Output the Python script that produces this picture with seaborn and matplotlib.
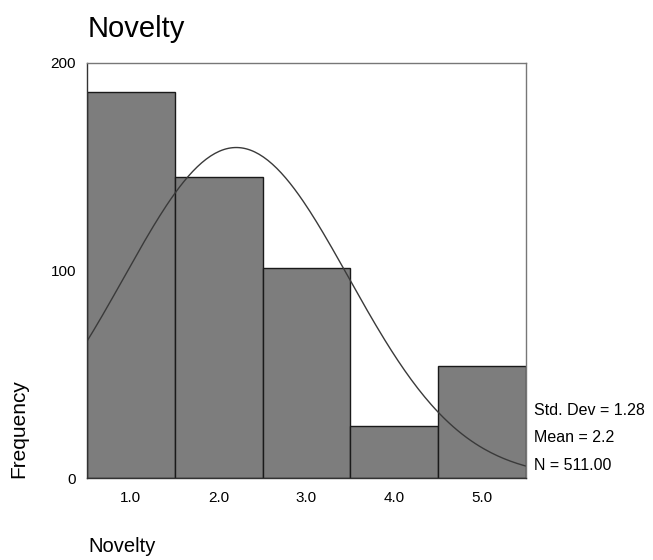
import numpy as np
import pandas as pd
import matplotlib
matplotlib.use('Agg')
import matplotlib.pyplot as plt
import seaborn as sns

# ------------------------
# Datos
# ------------------------
scores = [1.0, 2.0, 3.0, 4.0, 5.0]
freqs = [186, 145, 101, 25, 54]
tick_labels = ['1.0', '2.0', '3.0', '4.0', '5.0']
mean_val = 2.2
std_val = 1.28
n_val = 511

df = pd.DataFrame({'Novelty': scores, 'Frequency': freqs})

sns.set_style('white')
plt.rcParams['font.family'] = ['Liberation Sans', 'DejaVu Sans']
plt.rcParams['text.color'] = 'black'
plt.rcParams['xtick.color'] = 'black'
plt.rcParams['ytick.color'] = 'black'

fig = plt.figure(figsize=(6.53, 5.6), dpi=100)
ax = fig.add_axes([87/653, 1 - 478/560, 439/653, 415/560])

sns.histplot(data=df, x='Novelty', weights='Frequency', discrete=True,
             color='#7d7d7d', edgecolor='#1a1a1a', linewidth=1.0,
             alpha=1.0, ax=ax)

# curva normal ajustada (media, desv. est., N del gráfico)
xs = np.linspace(0.5, 5.5, 200)
ys = n_val * 1.0 / (std_val * np.sqrt(2 * np.pi)) * np.exp(-0.5 * ((xs - mean_val) / std_val) ** 2)
sns.lineplot(x=xs, y=ys, color='#3a3a3a', linewidth=1.0, ax=ax)

ax.set_xlim(0.5, 5.5)
ax.set_ylim(0, 200)
ax.set_xticks(scores)
ax.set_xticklabels(tick_labels)
ax.set_yticks([0, 100, 200])
ax.set_xlabel('')
ax.set_ylabel('')
ax.tick_params(axis='both', labelsize=11, length=3, width=0.8, color='#555555',
               labelcolor='black', pad=5)
ax.tick_params(axis='x', pad=6)

for side in ['left', 'bottom']:
    ax.spines[side].set_color('#333333')
    ax.spines[side].set_linewidth(1.0)
for side in ['top', 'right']:
    ax.spines[side].set_color('#777777')
    ax.spines[side].set_linewidth(1.0)

# textos
fig.text(88/653, 1 - 37/560, 'Novelty', fontsize=21, ha='left', va='baseline')
fig.text(88/653, 1 - 552/560, 'Novelty', fontsize=14.5, ha='left', va='baseline')
fig.text(19/653, 1 - 478/560, 'Frequency', fontsize=15, rotation=90, ha='center', va='bottom')

stats = [f'Std. Dev = {std_val:.2f}', f'Mean = {mean_val:.1f}', f'N = {n_val:.2f}']
for txt, yb in zip(stats, [415, 442, 470]):
    fig.text(534/653, 1 - yb/560, txt, fontsize=11.5, ha='left', va='baseline')

plt.savefig('out.png', dpi=100)
plt.close()
